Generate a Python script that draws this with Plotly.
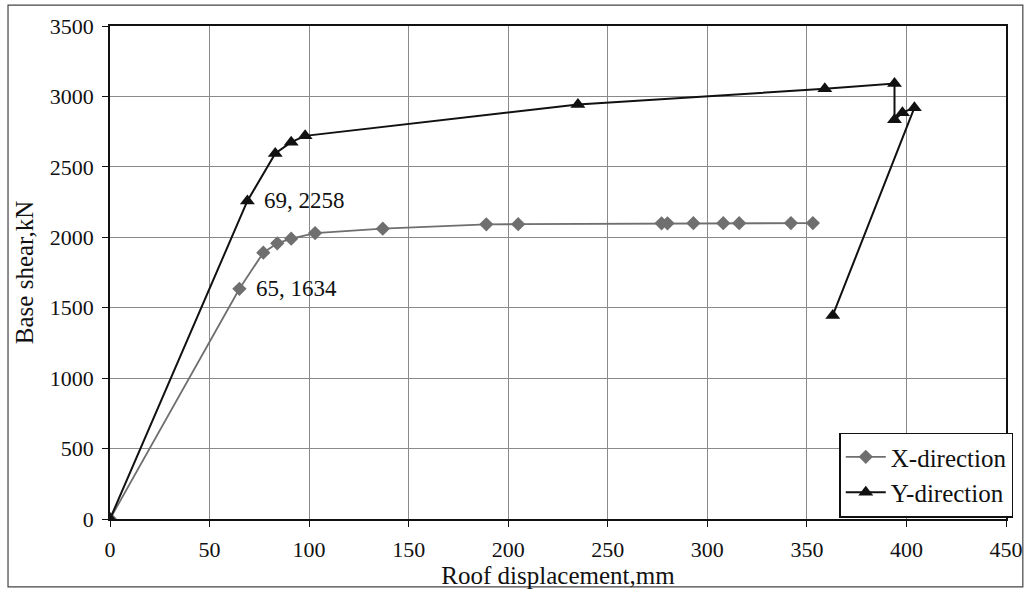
import plotly.graph_objects as go

# Pushover curves: roof displacement (mm) vs. base shear (kN)
x_dir_disp = [0, 65, 77, 84, 91, 103, 137, 189, 205, 277, 280, 293, 308, 316, 342, 353]
x_dir_shear = [0, 1634, 1891, 1957, 1990, 2030, 2061, 2092, 2093, 2099, 2099, 2100, 2100, 2100, 2101, 2101]

y_dir_disp = [0, 69, 83, 91, 98, 235, 359, 394, 394, 398, 404, 363]
y_dir_shear = [0, 2258, 2595, 2675, 2720, 2943, 3054, 3092, 2835, 2885, 2920, 1445]

x_ticks = [0, 50, 100, 150, 200, 250, 300, 350, 400, 450]
y_ticks = [0, 500, 1000, 1500, 2000, 2500, 3000, 3500]

# Points called out with their values
callouts = [(69, 2258), (65, 1634)]

W, H = 1035, 592
ML, MR, MT, MB = 110, 20, 26, 72
FONT = "Liberation Serif, Times New Roman, serif"

fig = go.Figure()
fig.add_trace(go.Scatter(
    x=x_dir_disp, y=x_dir_shear, name="X-direction", mode="lines+markers",
    line=dict(color="#6f6f6f", width=1.8),
    marker=dict(symbol="diamond", size=11, color="#6f6f6f"),
))
fig.add_trace(go.Scatter(
    x=y_dir_disp, y=y_dir_shear, name="Y-direction", mode="lines+markers",
    line=dict(color="#111111", width=2),
    marker=dict(symbol="triangle-up", size=13, color="#111111"),
))

for cx, cy in callouts:
    fig.add_annotation(
        x=cx, y=cy, text=f"{cx}, {cy}", showarrow=False,
        xanchor="left", yanchor="middle", xshift=15,
        font=dict(family=FONT, size=23, color="#111111"),
    )

plot_w = W - ML - MR
plot_h = H - MT - MB
# Outer chart frame
fig.add_shape(
    type="rect", xref="paper", yref="paper",
    x0=(7 - ML) / plot_w, x1=(1032 - ML) / plot_w,
    y0=(H - MB - 588) / plot_h, y1=(H - MB - 5) / plot_h,
    line=dict(color="#444444", width=1.2), layer="below",
)

axis_common = dict(
    showgrid=True, gridcolor="#8a8a8a", gridwidth=1,
    showline=True, linecolor="#111111", linewidth=1.6, mirror=True,
    ticks="outside", ticklen=6, tickcolor="#111111",
    tickfont=dict(family=FONT, size=22, color="#111111"),
    zeroline=False,
)

fig.update_layout(
    width=W, height=H,
    margin=dict(l=ML, r=MR, t=MT, b=MB),
    paper_bgcolor="white", plot_bgcolor="white",
    showlegend=True,
    legend=dict(
        x=1.008, y=0.003, xanchor="right", yanchor="bottom",
        bgcolor="white", bordercolor="#111111", borderwidth=1.6,
        font=dict(family=FONT, size=25, color="#111111"),
        itemwidth=40, tracegroupgap=0,
    ),
    xaxis=dict(
        range=[0, 450], tickvals=x_ticks, ticklabelstandoff=4,
        title=dict(text="Roof displacement,mm", standoff=0,
                   font=dict(family=FONT, size=25, color="#111111")),
        **axis_common,
    ),
    yaxis=dict(
        range=[0, 3500], tickvals=y_ticks, ticklabelstandoff=4,
        title=dict(text="Base shear,kN", standoff=9,
                   font=dict(family=FONT, size=25, color="#111111")),
        **axis_common,
    ),
)

fig.write_html("out.html")
